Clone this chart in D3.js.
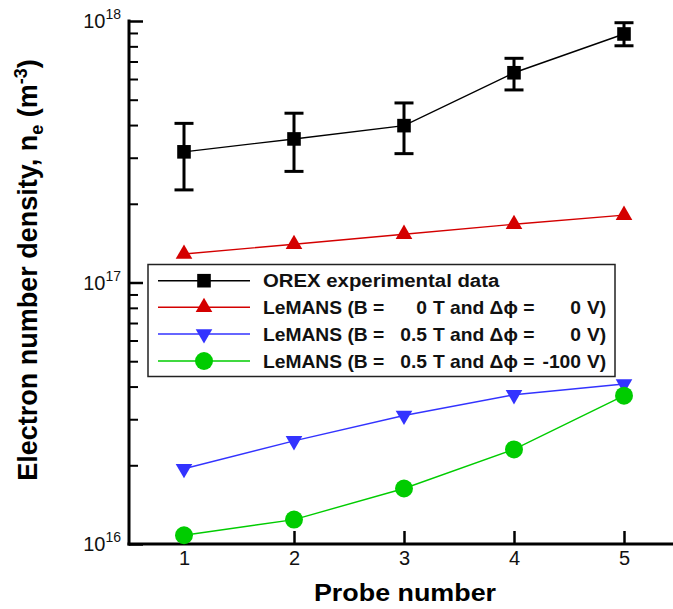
<!DOCTYPE html>
<html>
<head>
<meta charset="utf-8">
<script src="https://cdn.jsdelivr.net/npm/d3@7"></script>
<style>
  body { margin: 0; background: #fff; }
  text { font-family: "Liberation Sans", Arial, sans-serif; }
</style>
</head>
<body>
<svg id="chart" width="673" height="609"></svg>
<script>
// probe positions and electron number density (m^-3)
var probes = [1, 2, 3, 4, 5];
var orexData = [3.16e17, 3.54e17, 3.98e17, 6.34e17, 8.92e17];
var orexHigh = [4.06e17, 4.44e17, 4.86e17, 7.20e17, 9.85e17];
var orexLow = [2.26e17, 2.66e17, 3.11e17, 5.45e17, 8.04e17];
var lemansNoField = [1.285e17, 1.40e17, 1.53e17, 1.67e17, 1.81e17];
var lemansField = [1.94e16, 2.48e16, 3.10e16, 3.72e16, 4.09e16];
var lemansFieldBias = [1.08e16, 1.24e16, 1.63e16, 2.30e16, 3.69e16];

var yMajor = [1e16, 1e17, 1e18];
var yMinor = [];
[1e16, 1e17].forEach(function(d) {
    for (var k = 2; k <= 9; k++) yMinor.push(k * d);
});

var svg = d3.select('#chart');

var xScale = d3.scaleLinear().domain([0.5, 5.5]).range([129, 679]);
var yScale = d3.scaleLog().domain([1e16, 1e18]).range([544, 21]);

// ticks (inward), labels done by hand
var yAxisMajor = d3.axisLeft(yScale).tickValues(yMajor).tickSize(-14).tickFormat('');
var yAxisMinor = d3.axisLeft(yScale).tickValues(yMinor).tickSize(-9).tickFormat('');
var xAxis = d3.axisBottom(xScale).tickValues(probes).tickSize(-13).tickPadding(7).tickFormat(d3.format('d'));

svg.append('g').attr('transform', 'translate(129,0)').call(yAxisMajor)
    .call(g => g.select('.domain').remove())
    .selectAll('line').attr('stroke', '#000').attr('stroke-width', 2.5);
svg.append('g').attr('transform', 'translate(129,0)').call(yAxisMinor)
    .call(g => g.select('.domain').remove())
    .selectAll('line').attr('stroke', '#000').attr('stroke-width', 2);
var xg = svg.append('g').attr('transform', 'translate(0,544)').call(xAxis);
xg.select('.domain').remove();
xg.selectAll('line').attr('stroke', '#000').attr('stroke-width', 2.5);
xg.selectAll('text').attr('font-size', 20).attr('fill', '#111')
    .style('font-family', '"Liberation Sans", Arial, sans-serif');

// axis lines
svg.append('line').attr('x1', 129).attr('x2', 129).attr('y1', 19.5).attr('y2', 545.5)
    .attr('stroke', '#000').attr('stroke-width', 3);
svg.append('line').attr('x1', 127.5).attr('x2', 673).attr('y1', 544).attr('y2', 544)
    .attr('stroke', '#000').attr('stroke-width', 3);

// y tick labels 10^n
yMajor.forEach(function(v) {
    var t = svg.append('text')
        .attr('x', 121).attr('y', yScale(v) + 7)
        .attr('text-anchor', 'end').attr('font-size', 20).attr('fill', '#111');
    t.append('tspan').text('10');
    t.append('tspan').attr('font-size', 14).attr('dy', -9).text(Math.round(Math.log10(v)));
});

// axis titles
svg.append('text')
    .attr('transform', 'translate(405,601) scale(1.12,1)')
    .attr('text-anchor', 'middle').attr('font-size', 24).attr('font-weight', 'bold')
    .text('Probe number');

var yt = svg.append('text')
    .attr('transform', 'translate(37,270) rotate(-90)')
    .attr('text-anchor', 'middle').attr('font-size', 27).attr('font-weight', 'bold');
yt.append('tspan').text('Electron number density, n');
yt.append('tspan').attr('font-size', 18).attr('dy', 6).text('e');
yt.append('tspan').attr('dy', -6).text(' (m');
yt.append('tspan').attr('font-size', 18).attr('dy', -10).text('-3');
yt.append('tspan').attr('dy', 10).text(')');

// series
var series = [
    { name: 'orex', values: orexData, color: '#000000', symbol: d3.symbolSquare, size: 185, rot: 0 },
    { name: 'b0', values: lemansNoField, color: '#d40000', symbol: d3.symbolTriangle, size: 120, rot: 0 },
    { name: 'b05', values: lemansField, color: '#3333ff', symbol: d3.symbolTriangle, size: 120, rot: 180 },
    { name: 'b05v', values: lemansFieldBias, color: '#00cc00', symbol: d3.symbolCircle, size: 254, rot: 0 }
];

var line = d3.line()
    .x(function(d, i) { return xScale(probes[i]); })
    .y(function(d) { return yScale(d); });

// error bars for experimental data
var eb = svg.append('g').attr('stroke', '#000').attr('stroke-width', 3);
probes.forEach(function(p, i) {
    var cx = xScale(p);
    eb.append('line').attr('x1', cx).attr('x2', cx)
        .attr('y1', yScale(orexHigh[i])).attr('y2', yScale(orexLow[i]));
    eb.append('line').attr('x1', cx - 9.5).attr('x2', cx + 9.5)
        .attr('y1', yScale(orexHigh[i])).attr('y2', yScale(orexHigh[i]));
    eb.append('line').attr('x1', cx - 9.5).attr('x2', cx + 9.5)
        .attr('y1', yScale(orexLow[i])).attr('y2', yScale(orexLow[i]));
});

series.forEach(function(s) {
    svg.append('path')
        .datum(s.values)
        .attr('d', line)
        .attr('fill', 'none')
        .attr('stroke', s.color)
        .attr('stroke-width', 1.4);
    svg.selectAll('.m-' + s.name)
        .data(s.values)
        .enter()
        .append('path')
        .attr('class', 'm-' + s.name)
        .attr('d', d3.symbol().type(s.symbol).size(s.size))
        .attr('transform', function(d, i) {
            return 'translate(' + xScale(probes[i]) + ',' + yScale(d) + ') rotate(' + s.rot + ')';
        })
        .attr('fill', s.color);
});

// legend
var legend = svg.append('g');
legend.append('rect')
    .attr('x', 148).attr('y', 264.5).attr('width', 467).attr('height', 112)
    .attr('fill', '#fff').attr('stroke', '#222').attr('stroke-width', 1.5);

var rowY = [280.7, 307.3, 334, 361];
series.forEach(function(s, i) {
    legend.append('line')
        .attr('x1', 158).attr('x2', 250).attr('y1', rowY[i]).attr('y2', rowY[i])
        .attr('stroke', s.color).attr('stroke-width', 1.4);
    legend.append('path')
        .attr('d', d3.symbol().type(s.symbol).size(s.size))
        .attr('transform', 'translate(204,' + rowY[i] + ') rotate(' + s.rot + ')')
        .attr('fill', s.color);
});

var legendB = ['', '0', '0.5', '0.5'];
var legendV = ['', '0', '0', '-100'];
function legText(x, y, str, anchor, sx) {
    return legend.append('text')
        .attr('transform', 'translate(' + x + ',' + y + ') scale(' + (sx || 1.04) + ',1)')
        .attr('text-anchor', anchor || 'start')
        .attr('font-size', 18.5).attr('font-weight', 'bold').attr('fill', '#111')
        .text(str);
}
legText(263, rowY[0] + 6.5, 'OREX experimental data', 'start', 1.1);
for (var i = 1; i < 4; i++) {
    var by = rowY[i] + 6.5;
    legText(263, by, 'LeMANS (B =');
    legText(427, by, legendB[i], 'end');
    legText(433, by, 'T and \u0394\u03d5 =');
    legText(581, by, legendV[i], 'end');
    legText(587, by, 'V)');
}
</script>
</body>
</html>
